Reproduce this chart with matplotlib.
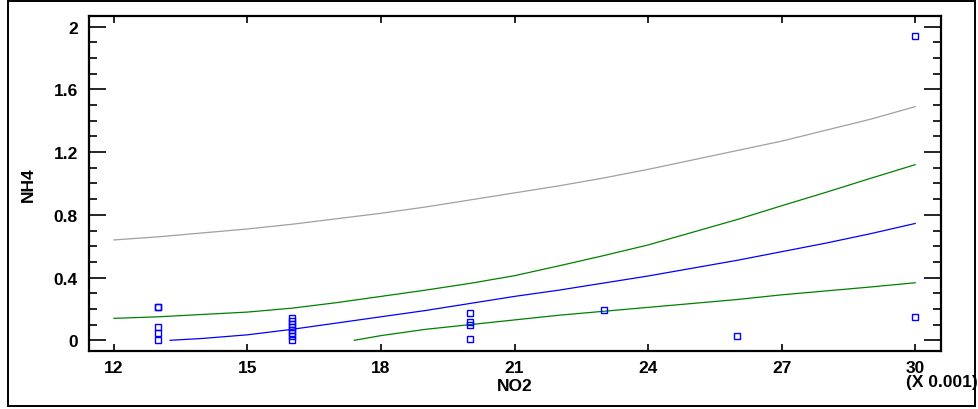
import matplotlib
matplotlib.use("Agg")
import matplotlib.pyplot as plt
from matplotlib.patches import Rectangle
from matplotlib.ticker import MultipleLocator

plt.rcParams["font.family"] = ["Liberation Sans", "DejaVu Sans"]
plt.rcParams["font.weight"] = "bold"

# observed samples, NO2 in units of 0.001
no2_obs = [13, 13, 13, 13, 13,
           16, 16, 16, 16, 16, 16, 16, 16,
           20, 20, 20, 20,
           23, 26, 30, 30]
nh4_obs = [0.215, 0.21, 0.083, 0.045, 0.005,
           0.14, 0.121, 0.102, 0.083, 0.064, 0.045, 0.026, 0.005,
           0.176, 0.115, 0.10, 0.01,
           0.193, 0.027, 1.943, 0.151]

# fitted model
fit_x = [13.26, 14, 15, 16, 17, 18, 19, 20, 21, 22, 23, 24, 25, 26, 27, 28, 29, 30]
fit_y = [0.0, 0.012, 0.035, 0.07, 0.11, 0.15, 0.19, 0.235, 0.28, 0.32, 0.365,
         0.41, 0.46, 0.51, 0.565, 0.62, 0.68, 0.745]

# confidence limits for the mean
conf_hi_x = [12, 13, 14, 15, 16, 17, 18, 19, 20, 21, 22, 23, 24, 25, 26, 27, 28, 29, 30]
conf_hi_y = [0.14, 0.15, 0.165, 0.18, 0.205, 0.24, 0.28, 0.32, 0.363, 0.412, 0.475,
             0.54, 0.608, 0.689, 0.77, 0.858, 0.944, 1.033, 1.12]
conf_lo_x = [17.4, 18, 19, 20, 21, 22, 23, 24, 25, 26, 27, 28, 29, 30]
conf_lo_y = [0.0, 0.03, 0.07, 0.10, 0.13, 0.16, 0.185, 0.21, 0.235, 0.26, 0.29,
             0.315, 0.34, 0.367]

# upper prediction limit
pred_hi_x = [12, 13, 14, 15, 16, 17, 18, 19, 20, 21, 22, 23, 24, 25, 26, 27, 28, 29, 30]
pred_hi_y = [0.64, 0.66, 0.685, 0.71, 0.74, 0.775, 0.81, 0.85, 0.895, 0.94, 0.985,
             1.035, 1.09, 1.15, 1.21, 1.27, 1.34, 1.41, 1.49]

x_ticks = [12, 15, 18, 21, 24, 27, 30]
y_ticks = [0, 0.4, 0.8, 1.2, 1.6, 2]
y_tick_labels = ["0", "0.4", "0.8", "1.2", "1.6", "2"]

fig = plt.figure(figsize=(9.79, 4.10), dpi=100)
ax = fig.add_axes([89 / 979, 1 - 351.5 / 410, (941 - 89) / 979, (351.5 - 17.3) / 410])

ax.plot(pred_hi_x, pred_hi_y, color="#a0a0a0", lw=0.9)
ax.plot(conf_hi_x, conf_hi_y, color="#008000", lw=0.9)
ax.plot(conf_lo_x, conf_lo_y, color="#008000", lw=0.9)
ax.plot(fit_x, fit_y, color="#0000ff", lw=0.9)
ax.plot(no2_obs, nh4_obs, "s", ms=4.8, mfc="none", mec="#0000ff", mew=1.0)

ax.set_xlim(11.44, 30.58)
ax.set_ylim(-0.065, 2.066)
ax.set_xticks(x_ticks)
ax.set_yticks(y_ticks)
ax.set_yticklabels(y_tick_labels)
ax.yaxis.set_minor_locator(MultipleLocator(0.1))

ax.tick_params(axis="y", which="major", direction="in", length=12, width=1.2,
               left=True, right=True, pad=8, labelsize=12.5)
ax.tick_params(axis="y", which="minor", direction="in", length=6, width=1.2,
               left=True, right=True)
ax.tick_params(axis="x", which="major", direction="in", length=5, width=1.2,
               bottom=True, top=True, pad=7, labelsize=12.5)
for s in ax.spines.values():
    s.set_linewidth(1.6)

ax.set_xlabel("NO2", fontsize=12.5, fontweight="bold", labelpad=2)
ax.set_ylabel("NH4", fontsize=12.5, fontweight="bold", labelpad=13)
fig.text(978 / 979, 1 - 383 / 410, "(X 0.001)", ha="right", va="center",
         fontsize=12.5, fontweight="bold")

fig.patches.append(Rectangle((8 / 979, 3 / 410), 967 / 979, 405 / 410,
                             transform=fig.transFigure, fill=False,
                             edgecolor="black", lw=1.4))

fig.savefig("out.png", dpi=100)
